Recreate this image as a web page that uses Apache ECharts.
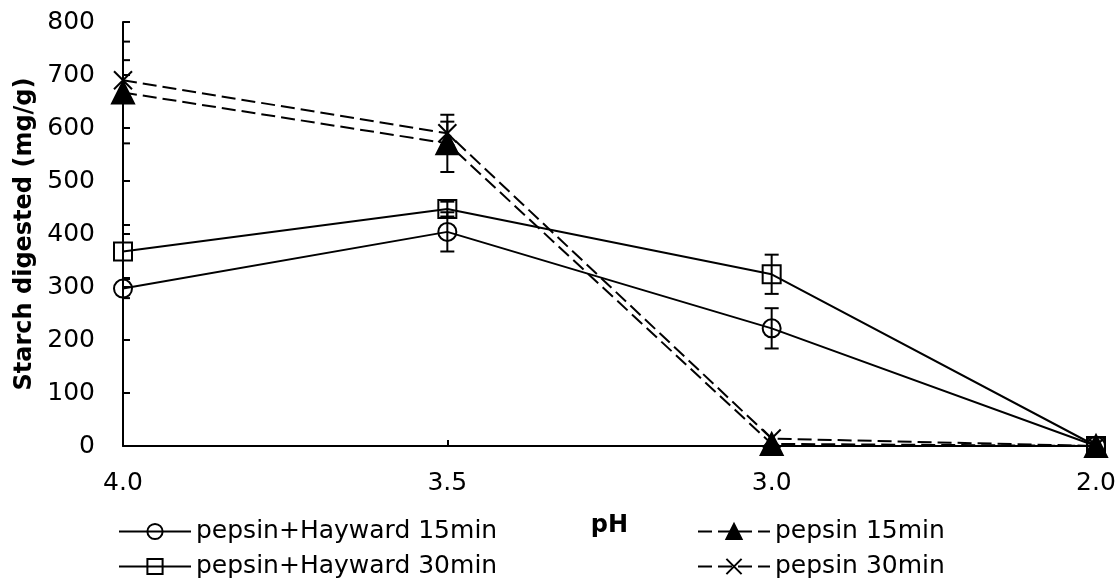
<!DOCTYPE html>
<html>
<head>
<meta charset="utf-8">
<script src="https://cdn.jsdelivr.net/npm/echarts@6/dist/echarts.min.js"></script>
<style>
  html, body { margin: 0; padding: 0; background: #fff; }
  #chart { width: 1120px; height: 581px; }
</style>
</head>
<body>
<div id="chart"></div>
<script>
(() => {
  "use strict";
  // pH categories, equal spacing as in the original figure
  const phLabels = ["4.0", "3.5", "3.0", "2.0"];
  const yTicks = { min: 0, max: 800, step: 100 };

  // starch digested (mg/g)
  const hw15 = [297, 404, 222, 0];
  const hw30 = [367, 447, 324, 0];
  const pep15 = [667, 571, 4, 0];
  const pep30 = [690, 590, 14, 0];

  // +/- error bar half-widths
  const hw15Err = [18, 37, 38, 0];
  const hw30Err = [50, 14, 37, 0];
  const pep15Err = [96, 54, 0, 0];
  const pep30Err = [38, 22, 0, 0];

  const names = ["pepsin+Hayward 15min", "pepsin+Hayward 30min", "pepsin 15min", "pepsin 30min"];
  const FONT = "DejaVu Sans";
  const X_PATH = "path://M0,0L10,10M10,0L0,10";

  const line = (name, data, symbol, size, dashed, filled) => ({
    name, type: "line", data, symbol, symbolSize: size, z: 3,
    lineStyle: { color: "#000", width: 2, type: dashed ? [14, 6] : "solid" },
    itemStyle: { color: filled ? "#000" : "rgba(0,0,0,0)", borderColor: "#000", borderWidth: 2 },
    emphasis: { disabled: true },
  });

  const errSeries = (vals, errs) => ({
    type: "custom", clip: true, z: 4, silent: true,
    data: vals.map((v, i) => [i, v - errs[i], v + errs[i]]),
    encode: { x: 0, y: [1, 2] },
    renderItem: (params, api) => {
      const lo = api.value(1), hi = api.value(2);
      if (hi - lo <= 0) return null;
      const t = api.coord([api.value(0), hi]), b = api.coord([api.value(0), lo]);
      const st = { stroke: "#000", lineWidth: 2 };
      const w = 7;
      return { type: "group", children: [
        { type: "line", shape: { x1: t[0], y1: t[1], x2: b[0], y2: b[1] }, style: st },
        { type: "line", shape: { x1: t[0] - w, y1: t[1], x2: t[0] + w, y2: t[1] }, style: st },
        { type: "line", shape: { x1: b[0] - w, y1: b[1], x2: b[0] + w, y2: b[1] }, style: st },
      ] };
    },
  });

  // one legend per entry so the two columns sit exactly where the original has them
  const legendAt = (name, left, top) => ({
    data: [name], left, top, padding: 0, itemWidth: 72, itemHeight: 19,
    textStyle: { fontFamily: FONT, fontSize: 25, color: "#000" }, selectedMode: false,
  });

  const chart = echarts.init(document.getElementById("chart"));
  chart.setOption({
    animation: false,
    backgroundColor: "#fff",
    textStyle: { fontFamily: FONT },
    grid: { left: 123, right: 24, top: 22, bottom: 135, containLabel: false },
    legend: [
      legendAt(names[0], 118, 519),
      legendAt(names[1], 118, 554),
      legendAt(names[2], 697, 519),
      legendAt(names[3], 697, 554),
    ],
    xAxis: {
      type: "category", data: phLabels, boundaryGap: false,
      name: "pH", nameLocation: "middle", nameGap: 68,
      nameTextStyle: { fontFamily: FONT, fontSize: 24, fontWeight: "bold", color: "#000" },
      axisLine: { lineStyle: { color: "#000", width: 2 } },
      axisTick: { inside: true, length: 6, lineStyle: { color: "#000", width: 2 } },
      axisLabel: { fontFamily: FONT, fontSize: 25, color: "#000", margin: 25 },
      splitLine: { show: false },
    },
    yAxis: {
      type: "value", min: yTicks.min, max: yTicks.max, interval: yTicks.step,
      name: "Starch digested (mg/g)", nameLocation: "middle", nameGap: 86,
      nameTextStyle: { fontFamily: FONT, fontSize: 24, fontWeight: "bold", color: "#000" },
      axisLine: { show: true, lineStyle: { color: "#000", width: 2 } },
      axisTick: { show: true, inside: true, length: 7, lineStyle: { color: "#000", width: 2 } },
      axisLabel: { fontFamily: FONT, fontSize: 25, color: "#000", margin: 28 },
      splitLine: { show: false },
    },
    series: [
      line(names[0], hw15, "circle", 18, false, false),
      line(names[1], hw30, "rect", 18, false, false),
      line(names[2], pep15, "triangle", 22, true, true),
      line(names[3], pep30, X_PATH, 18, true, false),
      errSeries(hw15, hw15Err),
      errSeries(hw30, hw30Err),
      errSeries(pep15, pep15Err),
      errSeries(pep30, pep30Err),
    ],
  });
})();
</script>
</body>
</html>
